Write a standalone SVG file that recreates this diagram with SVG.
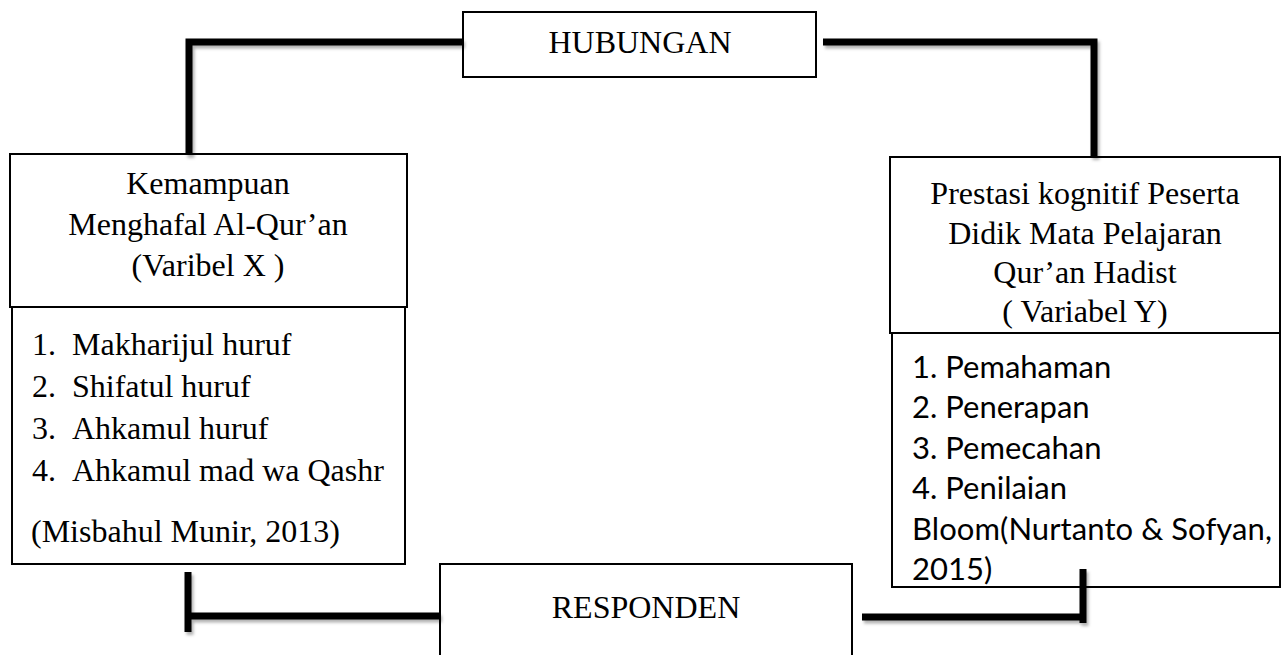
<svg xmlns="http://www.w3.org/2000/svg" width="1283" height="655" viewBox="0 0 1283 655">
<style>
.box{fill:#fff;stroke:#000;stroke-width:2}
.conn{fill:none;stroke:#000;stroke-width:7;stroke-linejoin:miter;stroke-linecap:butt}
.serif{font-family:"Liberation Serif","Times New Roman",serif;font-size:32px;fill:#000}
.sans{font-family:"Lato","Liberation Sans",sans-serif;font-size:31px;fill:#000}
.mid{text-anchor:middle}
</style>
<defs>
<filter id="sh" x="-10%" y="-10%" width="130%" height="130%">
<feDropShadow dx="2" dy="3" stdDeviation="1.5" flood-color="#000" flood-opacity="0.3"/>
</filter>
</defs>
<rect width="1283" height="655" fill="#fff"/>
<g id="hubungan">
<rect class="box" x="463" y="12" width="353" height="65"/>
<text class="serif mid" x="640" y="53">HUBUNGAN</text>
</g>
<g id="variabel-x">
<rect class="box" x="10" y="154" width="397" height="153"/>
<text class="serif mid" x="208" y="194">Kemampuan</text>
<text class="serif mid" x="208" y="235">Menghafal Al-Qur’an</text>
<text class="serif mid" x="208" y="276">(Varibel X )</text>
</g>
<g id="indikator-x">
<rect class="box" x="12" y="307" width="393" height="257"/>
<text class="serif" x="32" y="355">1.</text><text class="serif" x="72" y="355">Makharijul huruf</text>
<text class="serif" x="32" y="397">2.</text><text class="serif" x="72" y="397">Shifatul huruf</text>
<text class="serif" x="32" y="439">3.</text><text class="serif" x="72" y="439">Ahkamul huruf</text>
<text class="serif" x="32" y="481">4.</text><text class="serif" x="72" y="481">Ahkamul mad wa Qashr</text>
<text class="serif" x="31" y="542">(Misbahul Munir, 2013)</text>
</g>
<g id="variabel-y">
<rect class="box" x="890" y="157" width="390" height="176"/>
<text class="serif mid" x="1085" y="204">Prestasi kognitif Peserta</text>
<text class="serif mid" x="1085" y="244">Didik Mata Pelajaran</text>
<text class="serif mid" x="1085" y="283">Qur’an Hadist</text>
<text class="serif mid" x="1085" y="322">( Variabel Y)</text>
</g>
<g id="indikator-y">
<rect class="box" x="892" y="333" width="388" height="254"/>
<text class="sans" x="912" y="378">1. Pemahaman</text>
<text class="sans" x="912" y="418">2. Penerapan</text>
<text class="sans" x="912" y="459">3. Pemecahan</text>
<text class="sans" x="912" y="499">4. Penilaian</text>
<text class="sans" x="912" y="540" textLength="360" lengthAdjust="spacing">Bloom(Nurtanto &amp; Sofyan,</text>
<text class="sans" x="912" y="580">2015)</text>
</g>
<g id="responden">
<rect class="box" x="440" y="564" width="412" height="100"/>
<text class="serif mid" x="646" y="618">RESPONDEN</text>
</g>
<g id="connectors" filter="url(#sh)">
<path class="conn" d="M463 42 H189 V155"/>
<path class="conn" d="M823 42 H1094 V157"/>
<path class="conn" d="M188 572 V632"/>
<path class="conn" d="M188 616 H440"/>
<path class="conn" d="M862 617 H1083"/>
<path class="conn" d="M1083 569 V623"/>
</g>
</svg>
